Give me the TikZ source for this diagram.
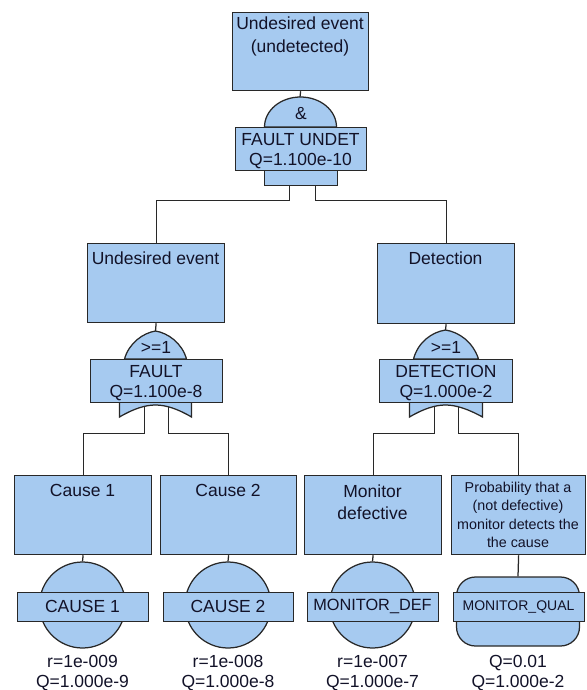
\documentclass[tikz,border=0pt]{standalone}
\usepackage{fontspec}
\setmainfont{Liberation Sans}
\usetikzlibrary{calc}
\definecolor{evfill}{RGB}{166,202,240}
\definecolor{edge}{RGB}{40,40,40}
\definecolor{ink}{RGB}{18,18,40}
\pgfdeclarelayer{background}
\pgfsetlayers{background,main}
\begin{document}
\begin{tikzpicture}[x=1pt,y=-1pt,
  shp/.style={draw=edge, fill=evfill, line width=1.25pt},
  box/.style={shp, rectangle, inner sep=0pt, anchor=north west},
  evt/.style={shp, circle, inner sep=0pt, minimum size=86pt},
  txt/.style={text=ink, font=\fontsize{17.5}{21}\selectfont, inner sep=0pt, align=center},
  smalltxt/.style={text=ink, font=\fontsize{14.3}{18.3}\selectfont, inner sep=0pt, align=center},
  wire/.style={draw=edge, line width=1.25pt}]
\useasboundingbox (0,0) rectangle (586,690);

% ---------- top event and AND gate ----------
\node[box, minimum width=136pt, minimum height=78pt] (top) at (232,12) {};
\node[txt, font=\fontsize{17.5}{23}\selectfont] (top-t) at (300,36.5) {Undesired event\\(undetected)};
\coordinate (g0top) at (300,97);
\draw[shp] (264.5,127) .. controls (264.5,110.4) and (280.5,97) .. (300.5,97)
           .. controls (320.5,97) and (336.5,110.4) .. (336.5,127) -- cycle;
\node[box, minimum width=73pt, minimum height=15pt] (tail0) at (264,170) {};
\node[box, minimum width=131pt, minimum height=43pt] (undet) at (235,127) {};
\node[txt] (and-t) at (301,114) {\&};
\node[txt, font=\fontsize{17.5}{20}\selectfont] (undet-t) at (300.5,151.5) {FAULT UNDET\\Q=1.100e-10};

% ---------- second level events ----------
\node[box, minimum width=137pt, minimum height=79pt] (ue) at (87,243) {};
\node[txt] (ue-t) at (155.5,258) {Undesired event};
\node[box, minimum width=137pt, minimum height=80pt] (det) at (377,243) {};
\node[txt] (det-t) at (445.5,258) {Detection};

% ---------- OR gate FAULT ----------
\coordinate (g1top) at (155.5,331);
\draw[shp] (124.5,359) .. controls (129,343) and (143,333) .. (155.5,331)
           .. controls (168,333) and (182,343) .. (186.5,359) -- cycle;
\draw[shp] (119.5,402) -- (119.5,417) .. controls (133,409) and (145,405) .. (155.5,405)
           .. controls (166,405) and (178,409) .. (191.5,417) -- (191.5,402);
\node[box, minimum width=132pt, minimum height=43pt] (fault) at (90,359) {};
\node[txt] (or1-t) at (156,347.5) {>=1};
\node[txt, font=\fontsize{17.5}{20}\selectfont] (fault-t) at (156,383) {FAULT\\Q=1.100e-8};

% ---------- OR gate DETECTION ----------
\coordinate (g2top) at (445.5,330);
\draw[shp] (413.5,359) .. controls (418,342) and (432,332) .. (445.5,330)
           .. controls (459,332) and (473,342) .. (478.5,359) -- cycle;
\draw[shp] (409.5,402) -- (409.5,417) .. controls (423,409) and (435,405) .. (445.5,405)
           .. controls (456,405) and (468,409) .. (482.5,417) -- (482.5,402);
\node[box, minimum width=133pt, minimum height=43pt] (detg) at (379,359) {};
\node[txt] (or2-t) at (446,347.5) {>=1};
\node[txt, font=\fontsize{17.5}{20}\selectfont] (detg-t) at (446,383) {DETECTION\\Q=1.000e-2};

% ---------- bottom events ----------
\node[box, minimum width=137pt, minimum height=79pt] (c1) at (14,475) {};
\node[txt] (c1-t) at (82.5,490) {Cause 1};
\node[box, minimum width=136pt, minimum height=79pt] (c2) at (160,475) {};
\node[txt] (c2-t) at (228,490) {Cause 2};
\node[box, minimum width=137pt, minimum height=79pt] (mon) at (304,475) {};
\node[txt, font=\fontsize{17.5}{22}\selectfont] (mon-t) at (372.5,502) {Monitor\\defective};
\node[box, minimum width=134pt, minimum height=79pt] (prob) at (451,475) {};
\node[smalltxt] (prob-t) at (518,515) {Probability that a\\(not defective)\\monitor detects the\\the cause};

% basic events (circles) and the house-like event
\node[evt] (e1) at (82.5,605) {};
\node[evt] (e2) at (228,605) {};
\node[evt] (e3) at (372.5,605) {};
\node[shp, rectangle, rounded corners=19pt, minimum width=123pt, minimum height=69pt, inner sep=0pt] (e4) at (518,611.5) {};

\node[box, minimum width=131pt, minimum height=29pt] (l1) at (17,592) {};
\node[txt] (l1-t) at (82.5,606.5) {CAUSE 1};
\node[box, minimum width=130pt, minimum height=29pt] (l2) at (163,592) {};
\node[txt] (l2-t) at (228,606.5) {CAUSE 2};
\node[box, minimum width=131pt, minimum height=29pt] (l3) at (307,592) {};
\node[txt, font=\fontsize{16.3}{20}\selectfont] (l3-t) at (372.5,606.5) {MONITOR\_DEF};
\node[box, minimum width=131pt, minimum height=29pt] (l4) at (453,592) {};
\node[txt, font=\fontsize{14}{18}\selectfont] (l4-t) at (518.5,606.5) {MONITOR\_QUAL};

% values under the events
\node[txt, font=\fontsize{17.5}{20.5}\selectfont] (v1) at (82.5,673) {r=1e-009\\Q=1.000e-9};
\node[txt, font=\fontsize{17.5}{20.5}\selectfont] (v2) at (228,673) {r=1e-008\\Q=1.000e-8};
\node[txt, font=\fontsize{17.5}{20.5}\selectfont] (v3) at (372.5,673) {r=1e-007\\Q=1.000e-7};
\node[txt, font=\fontsize{17.5}{20.5}\selectfont] (v4) at (518,673) {Q=0.01\\Q=1.000e-2};

% ---------- connectors (behind the shapes) ----------
\begin{pgfonlayer}{background}
\draw[wire] (top.south) -- (g0top);
\draw[wire] ([xshift=-12pt]tail0.south) -- ++(0,14) -| (ue.north);
\draw[wire] ([xshift=14pt]tail0.south) -- ++(0,14) -| (det.north);
\draw[wire] (ue.south) -- (g1top);
\draw[wire] (det.south) -- (g2top);
\draw[wire] ([xshift=-12pt]fault.south) -- ++(0,30) -| (c1.north);
\draw[wire] ([xshift=12pt]fault.south) -- ++(0,30) -| (c2.north);
\draw[wire] ([xshift=-12pt]detg.south) -- ++(0,30) -| (mon.north);
\draw[wire] ([xshift=12pt]detg.south) -- ++(0,30) -| (prob.north);
\draw[wire] (c1.south) -- (e1.north);
\draw[wire] (c2.south) -- (e2.north);
\draw[wire] (mon.south) -- (e3.north);
\draw[wire] (prob.south) -- (e4.north);
\end{pgfonlayer}
\end{tikzpicture}
\end{document}
